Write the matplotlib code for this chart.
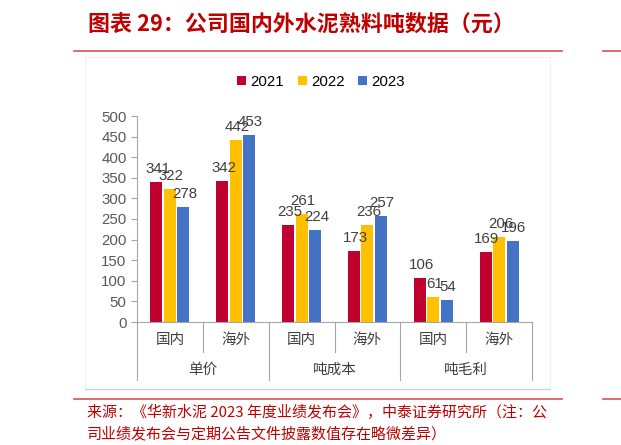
import numpy as np
import matplotlib.pyplot as plt
from matplotlib.lines import Line2D

plt.rcParams['font.family'] = ['Noto Sans CJK SC', 'DejaVu Sans']

# datos del gráfico
subcats = ['国内', '海外', '国内', '海外', '国内', '海外']
groups = ['单价', '吨成本', '吨毛利']
years = ['2021', '2022', '2023']
v2021 = [341, 342, 235, 173, 106, 169]
v2022 = [322, 442, 261, 236, 61, 206]
v2023 = [278, 453, 224, 257, 54, 196]
colores = ['#C0002F', '#FFC000', '#4472C4']

W, H = 621, 445
fig = plt.figure(figsize=(W / 100, H / 100), dpi=100)

# marco gris suave del gráfico
fig.add_artist(plt.Rectangle((85 / W, 1 - 389 / H), 465 / W, 332 / H,
                             transform=fig.transFigure, fill=False,
                             ec='#F0F0F0', lw=0.8))
fig.add_artist(Line2D([85 / W, 550 / W], [1 - 389 / H, 1 - 389 / H],
                      color='#CFCFCF', lw=0.9))

ax = fig.add_axes([137 / W, 1 - 322 / H, 395 / W, 206 / H])
x = np.arange(len(subcats))
ancho = 0.18
paso = 0.205
px = 500 / 206  # un pixel en unidades de datos
series = [v2021, v2022, v2023]
for i, (vals, c, yr) in enumerate(zip(series, colores, years)):
    pos = x + (i - 1) * paso
    ax.bar(pos, vals, width=ancho, color=c, label=yr, zorder=2)
    for p, v in zip(pos, vals):
        ax.text(p + 0.02, v + 9 * px, str(v), ha='center', va='baseline',
                fontsize=10.8, color='#404040', family='Liberation Sans')

ax.set_xlim(-0.5, len(subcats) - 0.5)
ax.set_ylim(0, 500)
ax.set_yticks(range(0, 501, 50))
ax.tick_params(axis='y', labelsize=10.8, labelcolor='#595959',
               color='#A6A6A6', length=4, direction='out', width=0.8)
for lab in ax.get_yticklabels():
    lab.set_family('Liberation Sans')
ax.set_xticks([])
for s in ['top', 'right']:
    ax.spines[s].set_visible(False)
ax.spines['left'].set_color('#A6A6A6')
ax.spines['bottom'].set_color('#A6A6A6')
ax.spines['left'].set_linewidth(0.8)

# eje de categorías en dos niveles
tr = ax.get_xaxis_transform()
fy = 1 / 206  # un pixel en fracción del eje
for i, s in enumerate(subcats):
    ax.text(i, -18 * fy, s, transform=tr, ha='center', va='center',
            fontsize=10.5, color='#404040', fontweight='light')
for j, g in enumerate(groups):
    ax.text(2 * j + 0.5, -48 * fy, g, transform=tr, ha='center', va='center',
            fontsize=10.5, color='#404040', fontweight='light')
for k in range(len(subcats) + 1):
    largo = 58 if k % 2 == 0 else 30
    ax.add_line(Line2D([k - 0.5, k - 0.5], [0, -largo * fy], transform=tr,
                       color='#A6A6A6', lw=0.8, clip_on=False))

ax.legend(loc='center', bbox_to_anchor=(321 / W, 1 - 82 / H),
          bbox_transform=fig.transFigure, ncol=3, frameon=False,
          handlelength=0.6, handleheight=0.6,
          handletextpad=0.3, columnspacing=0.9,
          prop={'family': 'Liberation Sans', 'size': 10.8})

# título y fuente
rojo = '#C00000'
fig.text(88 / W, 1 - 25 / H, '图表 29：公司国内外水泥熟料吨数据（元）',
         fontsize=15.8, color=rojo, fontweight='bold', style='italic',
         va='center', ha='left')
linea = '#D9534F'
for yy in [51, 399]:
    fig.add_artist(Line2D([74 / W, 562 / W], [1 - yy / H, 1 - yy / H],
                          color=linea, lw=1.2))
    fig.add_artist(Line2D([603 / W, 621 / W], [1 - yy / H, 1 - yy / H],
                          color=linea, lw=1.2))
fig.text(87 / W, 1 - 412 / H,
         '来源：《华新水泥 2023 年度业绩发布会》，中泰证券研究所（注：公',
         fontsize=10.8, color=rojo, va='center', ha='left')
fig.text(87 / W, 1 - 434 / H,
         '司业绩发布会与定期公告文件披露数值存在略微差异）',
         fontsize=10.8, color=rojo, va='center', ha='left')

fig.savefig('out.png', dpi=100)
